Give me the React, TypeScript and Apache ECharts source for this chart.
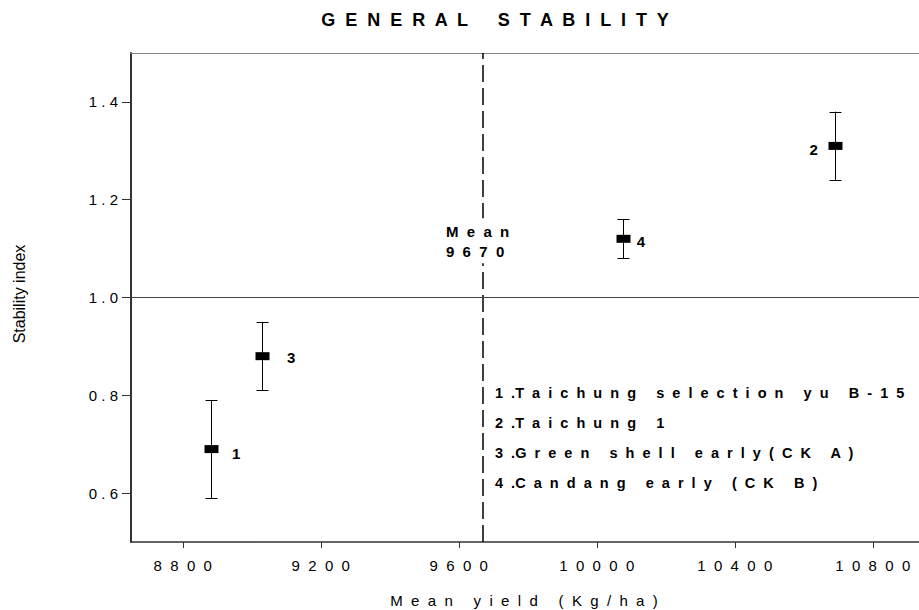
import React, { useEffect, useRef } from "react";
import * as echarts from "echarts";

// ---- data ----
const CULTIVAR_IDS = ["1", "2", "3", "4"];
const CULTIVAR_NAMES = [
  "1.Taichung selection yu B-15",
  "2.Taichung 1",
  "3.Green shell early(CK A)",
  "4.Candang early (CK B)",
];
const MEAN_YIELD = [8882, 10690, 9030, 10075];
const STABILITY = [0.69, 1.31, 0.88, 1.12];
const STAB_LOW = [0.59, 1.24, 0.81, 1.08];
const STAB_HIGH = [0.79, 1.38, 0.95, 1.16];
const X_TICKS = [8800, 9200, 9600, 10000, 10400, 10800];
const Y_TICKS = [0.6, 0.8, 1.0, 1.2, 1.4];
const GRAND_MEAN = 9670;
const REFERENCE_STABILITY = 1.0;
const MEAN_LABEL_Y = 1.117;

const TITLE = "GENERAL STABILITY";
const X_NAME = "Mean yield (Kg/ha)";
const Y_NAME = "Stability index";

// letter-spaced text helper (keeps real characters)
function spaced(s: string, gap: number, wordGap: number): string {
  return s
    .split(" ")
    .map((w) => w.split("").join(" ".repeat(gap)))
    .join(" ".repeat(wordGap));
}

const FONT = "'Liberation Sans', Arial, Helvetica, sans-serif";

// label placement per point (style, not data)
const LABEL_PLACE: { dx: number; dy: number; align: string }[] = [
  { dx: 21, dy: 4, align: "left" },
  { dx: -17, dy: 4, align: "right" },
  { dx: 25, dy: 1, align: "left" },
  { dx: 14, dy: 3, align: "left" },
];

export default function App() {
  const ref = useRef<HTMLDivElement>(null);
  useEffect(() => {
    if (!ref.current) return;
    const chart = echarts.init(ref.current, undefined, { renderer: "svg" });
    const points = MEAN_YIELD.map((x, i) => [x, STABILITY[i], STAB_LOW[i], STAB_HIGH[i]]);
    const X_MIN = 8650;
    const X_MAX = 10934;

    const legendText = (name: string) => {
      const dot = name.indexOf(".");
      return name.slice(0, dot) + "  ." + spaced(name.slice(dot + 1), 2, 5);
    };

    const option: any = {
      animation: false,
      backgroundColor: "#fff",
      title: {
        text: spaced(TITLE, 2, 6),
        left: 490,
        top: 6,
        textAlign: "center",
        textStyle: { fontFamily: FONT, fontSize: 18, fontWeight: "bold", color: "#000" },
      },
      grid: {
        left: 131,
        top: 53,
        right: 0,
        bottom: 68,
        show: false,
      },
      xAxis: [
        {
          type: "value",
          min: X_MIN,
          max: X_MAX,
          splitLine: { show: false },
          axisLine: { show: true, lineStyle: { color: "#333", width: 1.5 } },
          axisTick: { show: true, length: 6, customValues: X_TICKS, lineStyle: { color: "#333" } },
          axisLabel: {
            customValues: X_TICKS,
            formatter: (v: number) => spaced(String(v), 2, 2),
            fontFamily: FONT,
            fontSize: 15,
            color: "#000",
            margin: 16,
          },
        },
        {
          type: "value",
          position: "top",
          min: X_MIN,
          max: X_MAX,
          splitLine: { show: false },
          axisLine: { show: true, lineStyle: { color: "#888", width: 1 } },
          axisTick: { show: false },
          axisLabel: { show: false },
        },
      ],
      yAxis: {
        type: "value",
        min: 0.5,
        max: 1.5,
        splitLine: { show: false },
        axisLine: { show: true, lineStyle: { color: "#333", width: 2 } },
        axisTick: { show: true, length: 9, customValues: Y_TICKS, lineStyle: { color: "#333" } },
        axisLabel: {
          customValues: Y_TICKS,
          formatter: (v: number) => spaced(v.toFixed(1), 1, 1),
          fontFamily: FONT,
          fontSize: 15,
          color: "#000",
          margin: 13,
        },
      },
      series: [
        {
          type: "custom",
          data: points,
          z: 5,
          renderItem: (params: any, api: any) => {
            const i = params.dataIndex;
            const c = api.coord([api.value(0), api.value(1)]);
            const lo = api.coord([api.value(0), api.value(2)]);
            const hi = api.coord([api.value(0), api.value(3)]);
            const x = Math.round(c[0]) + 0.5;
            const cap = 6;
            const place = LABEL_PLACE[i];
            const ls = { stroke: "#000", lineWidth: 1 };
            return {
              type: "group",
              children: [
                { type: "line", shape: { x1: x, y1: hi[1], x2: x, y2: lo[1] }, style: ls },
                { type: "line", shape: { x1: x - cap, y1: Math.round(hi[1]) + 0.5, x2: x + cap, y2: Math.round(hi[1]) + 0.5 }, style: ls },
                { type: "line", shape: { x1: x - cap, y1: Math.round(lo[1]) + 0.5, x2: x + cap, y2: Math.round(lo[1]) + 0.5 }, style: ls },
                { type: "rect", shape: { x: x - 7, y: c[1] - 4, width: 14, height: 8 }, style: { fill: "#000" } },
                {
                  type: "text",
                  x: c[0] + place.dx,
                  y: c[1] + place.dy,
                  style: {
                    text: CULTIVAR_IDS[i],
                    fill: "#000",
                    font: `bold 15px ${FONT}`,
                    align: place.align,
                    verticalAlign: "middle",
                  },
                },
              ],
            };
          },
          markLine: {
            silent: true,
            symbol: "none",
            label: { show: false },
            data: [
              { xAxis: GRAND_MEAN, lineStyle: { type: [17, 6], width: 1.5, color: "#000" } },
              { yAxis: REFERENCE_STABILITY, lineStyle: { type: "solid", width: 1, color: "#444" } },
            ],
          },
        },
      ],
      graphic: [
        {
          type: "text",
          x: 524,
          y: 600,
          style: {
            text: spaced(X_NAME, 2, 5),
            font: `15px ${FONT}`,
            fill: "#000",
            align: "center",
            verticalAlign: "middle",
          },
        },
        {
          type: "text",
          x: 19,
          y: 294,
          rotation: Math.PI / 2,
          style: {
            text: Y_NAME,
            font: `16px ${FONT}`,
            fill: "#000",
            align: "center",
            verticalAlign: "middle",
          },
        },
        ...CULTIVAR_NAMES.map((name, i) => ({
          type: "text",
          x: 495,
          y: 393 + i * 30,
          style: {
            text: legendText(name),
            font: `bold 14.5px ${FONT}`,
            fill: "#000",
            align: "left",
            verticalAlign: "middle",
          },
        })),
      ],
    };
    chart.setOption(option);

    // "Mean 9670" annotation placed through the axis scale, masking the dashed line
    const p = chart.convertToPixel({ gridIndex: 0 }, [GRAND_MEAN, MEAN_LABEL_Y]) as number[];
    chart.setOption({
      graphic: [
        {
          id: "meanMask",
          type: "rect",
          z: 100,
          shape: { x: p[0] - 38, y: p[1] - 22, width: 70, height: 45 },
          style: { fill: "#fff" },
        },
        {
          id: "meanText",
          type: "text",
          z: 101,
          x: p[0] - 37,
          y: p[1] + 1,
          style: {
            text: spaced("Mean", 2, 2) + "\n" + spaced(String(GRAND_MEAN), 2, 2),
            font: `bold 15px ${FONT}`,
            lineHeight: 20,
            fill: "#000",
            align: "left",
            verticalAlign: "middle",
          },
        },
      ],
    });
    return () => chart.dispose();
  }, []);
  return (
    <div
      ref={ref}
      style={{ position: "absolute", left: 0, top: 0, width: 919, height: 610, overflow: "hidden" }}
    />
  );
}
